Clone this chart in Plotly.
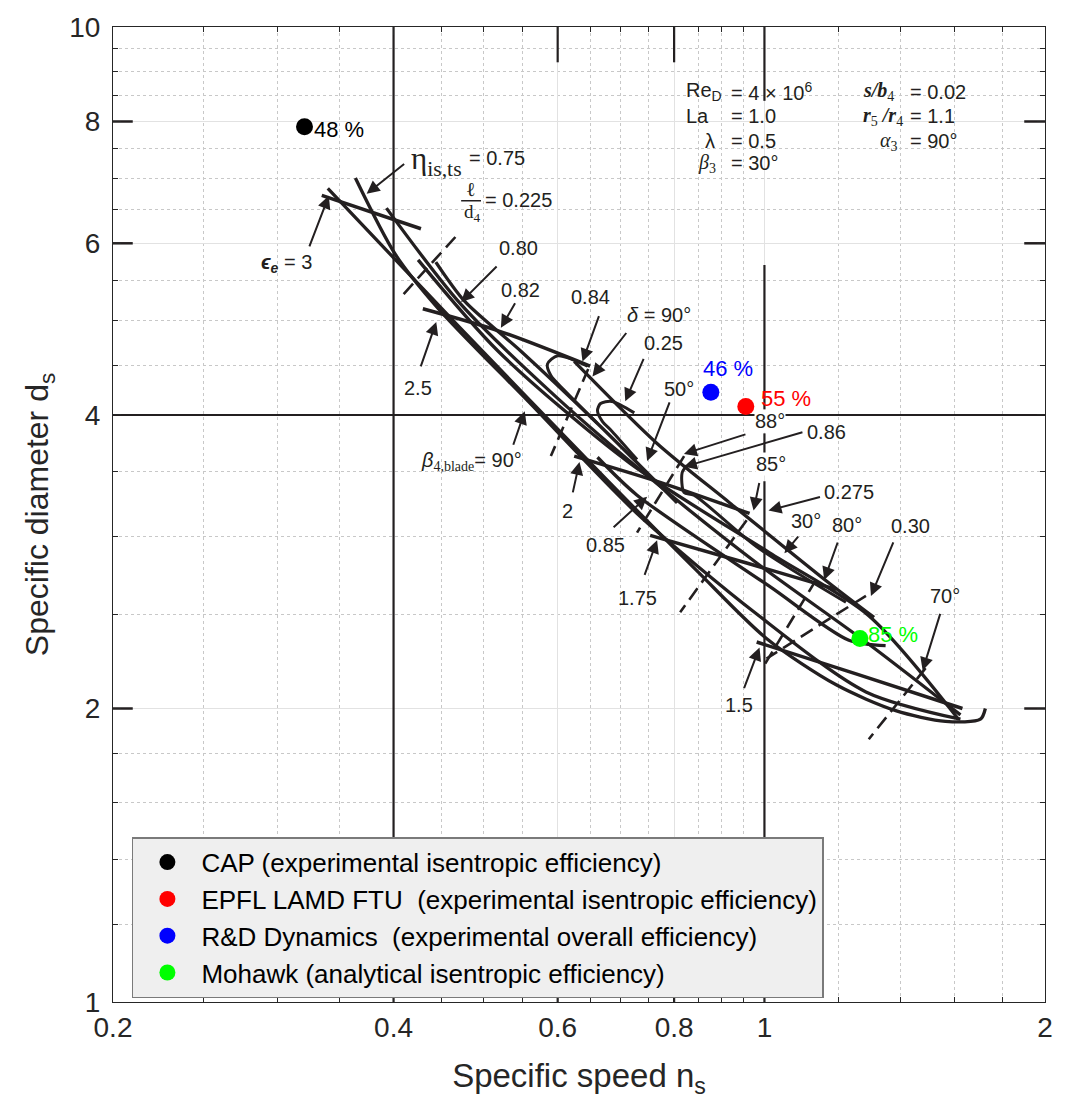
import math
import plotly.graph_objects as go

# ---------------------------------------------------------------
# Measured / predicted turbine operating points
# ---------------------------------------------------------------
series_names = [
    "CAP (experimental isentropic efficiency)",
    "EPFL LAMD FTU  (experimental isentropic efficiency)",
    "R&D Dynamics  (experimental overall efficiency)",
    "Mohawk (analytical isentropic efficiency)",
]
series_colors = ["#000000", "#ff0000", "#0000ff", "#00ff00"]
specific_speed = [0.321, 0.955, 0.876, 1.266]
specific_diameter = [7.90, 4.08, 4.22, 2.36]
efficiency_pct = [48, 55, 46, 85]

# ---------------------------------------------------------------
# Rohlik radial-turbine design chart (ns, ds) traced curves
# ---------------------------------------------------------------
envelope_a = [(0.340, 6.83), (0.469, 4.94), (0.678, 3.43), (0.846, 2.77), (1.005, 2.36),
              (1.194, 2.115), (1.383, 1.99), (1.564, 1.94), (1.705, 1.95), (1.726, 2.00)]
envelope_b = [(0.364, 7.00), (0.402, 5.84), (0.447, 5.14), (0.558, 4.13), (0.730, 3.17),
              (0.981, 2.50), (1.285, 2.08), (1.623, 1.95)]
envelope_c = [(0.393, 6.52), (0.472, 5.20), (0.600, 4.16), (0.767, 3.40), (0.981, 2.82),
              (1.285, 2.34), (1.623, 1.97)]
envelope_d = [(0.425, 5.77), (0.518, 4.65), (0.717, 3.57), (1.012, 2.89), (1.294, 2.49),
              (1.615, 1.95)]
envelope_e = [(0.625, 4.54), (0.767, 3.74), (0.918, 3.25), (1.173, 2.69), (1.311, 2.48)]
envelope_f = [(0.662, 3.62), (0.730, 3.31), (1.012, 2.67), (1.232, 2.35), (1.349, 2.32)]
envelope_g = [(0.444, 5.74), (0.477, 5.23), (0.548, 4.65), (0.662, 3.92), (0.806, 3.25)]

loop_084 = [(0.646, 4.49), (0.600, 4.60), (0.585, 4.51), (0.590, 4.39), (0.610, 4.24), (0.662, 3.92)]
loop_086 = [(0.725, 4.02), (0.686, 4.13), (0.667, 4.11), (0.662, 4.04), (0.670, 3.94),
            (0.686, 3.85), (0.730, 3.60)]
hook_086 = [(0.826, 3.55), (0.816, 3.49), (0.820, 3.33), (0.840, 3.31), (0.981, 2.93), (1.223, 2.57)]

# exit/inlet ratio lines (epsilon_e)
eps_3 = [(0.335, 6.72), (0.428, 6.21)]
eps_2_5 = [(0.430, 5.14), (0.518, 4.88), (0.650, 4.49)]
eps_2 = [(0.625, 3.63), (0.767, 3.42), (0.964, 3.17)]
eps_1_75 = [(0.754, 3.01), (0.957, 2.82), (1.194, 2.65)]
eps_1_5 = [(0.981, 2.34), (1.254, 2.17), (1.631, 2.00)]

# blade length ratio / blade angle lines (dashed)
dash_0225 = [(0.466, 6.09), (0.407, 5.28)]
dash_025 = [(0.647, 4.46), (0.590, 3.63)]
dash_50deg = [(0.820, 3.63), (0.730, 3.03)]
dash_0275 = [(0.957, 3.12), (0.812, 2.51)]
dash_80deg = [(1.136, 2.71), (0.998, 2.21)]
dash_030 = [(1.285, 2.61), (1.005, 2.25)]
dash_70deg = [(1.489, 2.20), (1.294, 1.86)]

# printed frame lines of the design chart
chart_rule_ns = [0.4, 1.0]
chart_rule_ds = 4.0
chart_unit_line_ds = [10.0, 8.4, None, 5.7, 4.05, None, 3.83, 3.62, None, 3.42, 1.0]
chart_side_ticks_ds = [8.0, 6.0, 2.0]
chart_edge_ticks_ns = [0.6, 0.8]

# axis ticks
ns_ticks = [0.2, 0.4, 0.6, 0.8, 1, 2]
ns_tick_text = ["0.2", "0.4", "0.6", "0.8", "1", "2"]
ns_minor = [0.25, 0.3, 0.35, 0.45, 0.5, 0.55, 0.65, 0.7, 0.75, 0.85, 0.9, 0.95, 1.2, 1.4, 1.6, 1.8]
ds_ticks = [1, 2, 4, 6, 8, 10]
ds_tick_text = ["1", "2", "4", "6", "8", "10"]
ds_minor = [1.2, 1.4, 1.6, 1.8, 2.5, 3, 3.5, 4.5, 5, 5.5, 6.5, 7, 7.5, 8.5, 9, 9.5]

INK = "#231f20"
AXIS = "#262626"
SANS = "Liberation Sans, Arial, Helvetica, sans-serif"
SERIF = "Liberation Serif, Times New Roman, serif"

fig = go.Figure()


def add_curve(pts, dash=None, width=3.3, smooth=False):
    fig.add_trace(go.Scatter(
        x=[p[0] for p in pts], y=[p[1] for p in pts], mode="lines",
        line=dict(color=INK, width=width, dash=dash,
                  shape="spline" if smooth else "linear", smoothing=0.8),
        hoverinfo="skip", showlegend=False))


# printed frame lines
fig.add_trace(go.Scatter(x=[chart_rule_ns[0]] * 2, y=[1, 10], mode="lines",
                         line=dict(color=INK, width=2.2), hoverinfo="skip", showlegend=False))
fig.add_trace(go.Scatter(x=[chart_rule_ns[1]] * len(chart_unit_line_ds), y=chart_unit_line_ds,
                         mode="lines", line=dict(color=INK, width=2.2), connectgaps=False,
                         hoverinfo="skip", showlegend=False))
fig.add_trace(go.Scatter(x=[0.2, 2.0], y=[chart_rule_ds, chart_rule_ds], mode="lines",
                         line=dict(color=INK, width=2.2), hoverinfo="skip", showlegend=False))
for ds in chart_side_ticks_ds:
    for x0, x1 in ((0.2, 0.21), (1.9, 2.0)):
        fig.add_trace(go.Scatter(x=[x0, x1], y=[ds, ds], mode="lines",
                                 line=dict(color=INK, width=2.5), hoverinfo="skip", showlegend=False))
for ns in chart_edge_ticks_ns:
    for y0, y1 in ((10, 9.2), (1.0, 1.05)):
        fig.add_trace(go.Scatter(x=[ns, ns], y=[y0, y1], mode="lines",
                                 line=dict(color=INK, width=2.2), hoverinfo="skip", showlegend=False))

# design-chart curves
for pts in (envelope_a, envelope_b, envelope_c, envelope_d, envelope_e, envelope_f, envelope_g):
    add_curve(pts, smooth=True)
for pts in (loop_084, loop_086, hook_086):
    add_curve(pts, smooth=True, width=3.0)
for pts in (eps_3, eps_2_5, eps_2, eps_1_75, eps_1_5):
    add_curve(pts, smooth=True, width=3.5)
for pts in (dash_0225, dash_025, dash_50deg, dash_0275, dash_80deg, dash_030, dash_70deg):
    add_curve(pts, dash="14px,7px", width=2.6)

# operating points
for i, name in enumerate(series_names):
    fig.add_trace(go.Scatter(
        x=[specific_speed[i]], y=[specific_diameter[i]], mode="markers", name=name,
        marker=dict(color=series_colors[i], size=17, line=dict(width=0)),
        legendgroup=f"g{i}", showlegend=True))

# ---------------------------------------------------------------
# Annotation helpers (positions on the canvas)
# ---------------------------------------------------------------
PLOT_L, PLOT_T, PLOT_W, PLOT_H = 113, 20, 937, 982


def pos(px, py):
    return (px - PLOT_L) / PLOT_W, (PLOT_T + PLOT_H - py) / PLOT_H


annotations = []


def label(px, py, text, size=20, anchor="center", family=SANS, color=INK, bg=None):
    x, y = pos(px, py)
    annotations.append(dict(x=x, y=y, xref="paper", yref="paper", text=text, showarrow=False,
                            xanchor=anchor, yanchor="middle", bgcolor=bg, borderpad=0,
                            font=dict(size=size, family=family, color=color)))


def arrow(tail, head):
    x, y = pos(*head)
    annotations.append(dict(x=x, y=y, xref="paper", yref="paper", text="", showarrow=True,
                            ax=tail[0] - head[0], ay=tail[1] - head[1],
                            arrowhead=2, arrowsize=1.3, arrowwidth=2.0, arrowcolor=INK,
                            standoff=0, startstandoff=0))


# chart labels
label(412, 155, "η<sub>is,ts</sub>", size=31, anchor="left", family=SERIF)
label(470, 152, "= 0.75", anchor="left")
label(473, 183, "ℓ", size=20, family=SERIF)
label(474, 207, "d<sub>4</sub>", size=19, family=SERIF)
label(486, 194, "= 0.225", anchor="left")
label(287, 258, "<b><i>ϵ</i></b><sub><b><i>e</i></b></sub> = 3")
label(521, 243, "0.80")
label(523, 285, "0.82")
label(593, 292, "0.84")
label(662, 310, "<i>δ</i> = 90°")
label(666, 338, "0.25")
label(420, 384, "2.5")
label(473, 458, "<i>β</i><span style='font-family:Liberation Serif'><sub>4,blade</sub></span>= 90°")
label(682, 385, "50°")
label(774, 417, "88°", bg="white")
label(830, 428, "0.86")
label(570, 507, "2")
label(775, 460, "85°", bg="white")
label(608, 542, "0.85")
label(853, 488, "0.275")
label(810, 518, "30°")
label(851, 522, "80°")
label(915, 523, "0.30")
label(640, 595, "1.75")
label(949, 593, "70°")
label(742, 703, "1.5")

# operating-condition block
label(688, 85, "Re<sub>D</sub>", anchor="left")
label(733, 85, "= 4 × 10<sup>6</sup>", anchor="left")
label(688, 110, "La", anchor="left")
label(733, 110, "= 1.0", anchor="left")
label(707, 135, "λ", anchor="left")
label(733, 135, "= 0.5", anchor="left")
label(700, 157, "<i>β</i><sub>3</sub>", anchor="left", family=SERIF)
label(733, 157, "= 30°", anchor="left")
label(866, 85, "<b><i>s/b</i></b><sub>4</sub>", anchor="left", family=SERIF)
label(913, 85, "= 0.02", anchor="left")
label(866, 110, "<b><i>r</i></b><sub>5</sub> <b><i>/r</i></b><sub>4</sub>", anchor="left", family=SERIF)
label(913, 110, "= 1.1", anchor="left")
label(883, 135, "<i>α</i><sub>3</sub>", anchor="left", family=SERIF)
label(913, 135, "= 90°", anchor="left")

for tail, head in [
    ((407, 157), (368, 188)), ((310, 242), (330, 190)), ((500, 260), (463, 297)),
    ((518, 297), (503, 323)), ((602, 310), (585, 357)), ((630, 327), (595, 372)),
    ((647, 353), (628, 397)), ((422, 363), (438, 317)), ((515, 442), (527, 407)),
    ((575, 490), (582, 458)), ((615, 525), (650, 493)), ((647, 573), (660, 537)),
    ((673, 397), (650, 457)), ((750, 430), (687, 450)), ((807, 428), (687, 463)),
    ((763, 478), (757, 507)), ((825, 493), (772, 507)), ((803, 532), (788, 550)),
    ((842, 538), (828, 577)), ((898, 538), (875, 593)), ((945, 610), (927, 668)),
    ((747, 687), (763, 645)),
]:
    arrow(tail, head)

# efficiency labels next to each operating point
pct_offsets = [(7, -3, "left"), (13, 8, "left"), (17, 24, "center"), (6, 4, "left")]
for i, (dx, dy, anc) in enumerate(pct_offsets):
    annotations.append(dict(
        x=math.log10(specific_speed[i]), y=math.log10(specific_diameter[i]), xref="x", yref="y",
        text=f"{efficiency_pct[i]} %", showarrow=False, xanchor=anc, yanchor="middle",
        xshift=dx, yshift=dy, font=dict(size=22, family=SANS, color=series_colors[i])))

fx0, fy = pos(463, 195)
fx1, _ = pos(483, 195)
fig.add_shape(type="line", xref="paper", yref="paper", x0=fx0, x1=fx1, y0=fy, y1=fy,
              line=dict(color=INK, width=1.5))

axis_common = dict(
    type="log", ticks="inside", ticklen=8, tickwidth=1, tickcolor=AXIS,
    showline=True, linecolor=AXIS, linewidth=1.2, mirror="allticks",
    showgrid=True, gridcolor="#e2e2e2", gridwidth=1, zeroline=False,
    tickfont=dict(size=28, family=SANS, color=AXIS),
)

fig.update_layout(
    width=1065, height=1104,
    margin=dict(l=PLOT_L, r=1065 - PLOT_L - PLOT_W, t=PLOT_T, b=1104 - PLOT_T - PLOT_H),
    paper_bgcolor="white", plot_bgcolor="white",
    font=dict(family=SANS, color=AXIS),
    annotations=annotations,
    showlegend=True,
    legend=dict(x=(132 - PLOT_L) / PLOT_W, y=(PLOT_T + PLOT_H - 836) / PLOT_H,
                xanchor="left", yanchor="top", bgcolor="#efefef",
                bordercolor="#7a7a7a", borderwidth=1.5,
                font=dict(size=26, family=SANS, color="#000000"),
                tracegroupgap=0, itemsizing="trace", itemwidth=58),
    xaxis=dict(axis_common, range=[math.log10(0.2), math.log10(2)],
               tickmode="array", tickvals=ns_ticks, ticktext=ns_tick_text,
               minor=dict(tickmode="array", tickvals=ns_minor, ticks="inside", ticklen=5,
                          tickcolor=AXIS, showgrid=True, gridcolor="#c8c8c8",
                          griddash="dot", gridwidth=1),
               title=dict(text="Specific speed n<sub>s</sub>", font=dict(size=33, color=AXIS),
                          standoff=22)),
    yaxis=dict(axis_common, range=[0, 1], ticklabelstandoff=6,
               tickmode="array", tickvals=ds_ticks, ticktext=ds_tick_text,
               minor=dict(tickmode="array", tickvals=ds_minor, ticks="inside", ticklen=5,
                          tickcolor=AXIS, showgrid=True, gridcolor="#c8c8c8",
                          griddash="dot", gridwidth=1),
               title=dict(text="Specific diameter d<sub>s</sub>", font=dict(size=32, color=AXIS),
                          standoff=10)),
)

fig.write_html("out.html")
